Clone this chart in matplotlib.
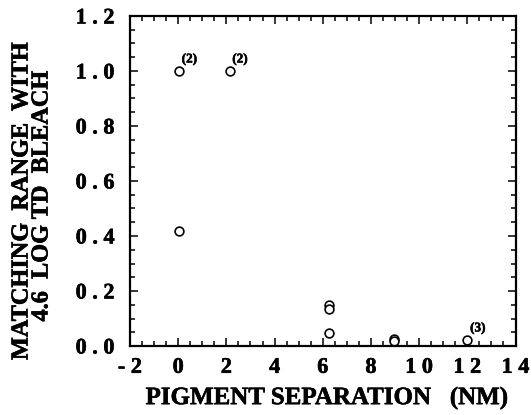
import matplotlib
matplotlib.use("Agg")
import matplotlib.pyplot as plt
import matplotlib.patheffects as pe
from matplotlib.ticker import MultipleLocator, FixedLocator, FixedFormatter

# Data
sep_nm = [0.03, 2.13, 0.03, 6.26, 6.26, 6.26, 8.95, 8.95, 12.0]
match_range = [1.0, 1.0, 0.42, 0.148, 0.136, 0.046, 0.027, 0.017, 0.022]
annot_idx = [0, 1, 8]
annot_text = ["(2)", "(2)", "(3)"]

x_ticks = [-2, 0, 2, 4, 6, 8, 10, 12, 14]
x_tick_labels = ["- 2", "0", "2", "4", "6", "8", "1 0", "1 2", "1 4"]
y_ticks = [0.0, 0.2, 0.4, 0.6, 0.8, 1.0, 1.2]
y_tick_labels = ["0 . 0", "0 . 2", "0 . 4", "0 . 6", "0 . 8", "1 . 0", "1 . 2"]

plt.rcParams['font.family'] = ['Liberation Serif', 'DejaVu Serif']
plt.rcParams['font.weight'] = 'bold'

heavy = [pe.withStroke(linewidth=0.4, foreground='black')]

W, H = 531, 415
fig = plt.figure(figsize=(W/100, H/100), dpi=100)
L, R, T, B = 130, 515.5, 16, 346
ax = fig.add_axes([L/W, 1-B/H, (R-L)/W, (B-T)/H])

ax.plot(sep_nm, match_range, linestyle='none', marker='o', markersize=6.3,
        markerfacecolor='white', markeredgecolor='black', markeredgewidth=1.2)

for i, t in zip(annot_idx, annot_text):
    ax.annotate(t, (sep_nm[i], match_range[i]), xytext=(2, 4),
                textcoords='offset points', ha='left', va='bottom',
                fontsize=9.5, fontweight='bold', path_effects=heavy)

ax.set_xlim(-2, 14)
ax.set_ylim(0, 1.2)
ax.xaxis.set_major_locator(FixedLocator(x_ticks))
ax.xaxis.set_major_formatter(FixedFormatter(x_tick_labels))
ax.yaxis.set_major_locator(FixedLocator(y_ticks))
ax.yaxis.set_major_formatter(FixedFormatter(y_tick_labels))
ax.xaxis.set_minor_locator(MultipleLocator(0.5))
ax.yaxis.set_minor_locator(MultipleLocator(0.05))

ax.tick_params(which='both', direction='in', top=True, right=True, width=1.1)
ax.tick_params(which='major', length=6)
ax.tick_params(which='minor', length=3.5)
ax.tick_params(axis='x', which='major', labelsize=16, pad=8.5)
ax.tick_params(axis='y', which='major', labelsize=16, pad=11)
for lbl in ax.get_xticklabels() + ax.get_yticklabels():
    lbl.set_fontweight('bold')
    lbl.set_path_effects(heavy)

for s in ax.spines.values():
    s.set_linewidth(1.6)

fig.text(327/W, 1-398/H, "PIGMENT SEPARATION   (NM)", ha='center', va='center',
         fontsize=18, fontweight='bold', path_effects=heavy)
fig.text(22/W, 1-201/H, "MATCHING  RANGE  WITH", ha='center', va='center',
         rotation=90, fontsize=17.5, fontweight='bold', path_effects=heavy)
fig.text(42/W, 1-196/H, "4.6  LOG TD  BLEACH", ha='center', va='center',
         rotation=90, fontsize=17.5, fontweight='bold', path_effects=heavy)

fig.savefig("out.png", dpi=100)
